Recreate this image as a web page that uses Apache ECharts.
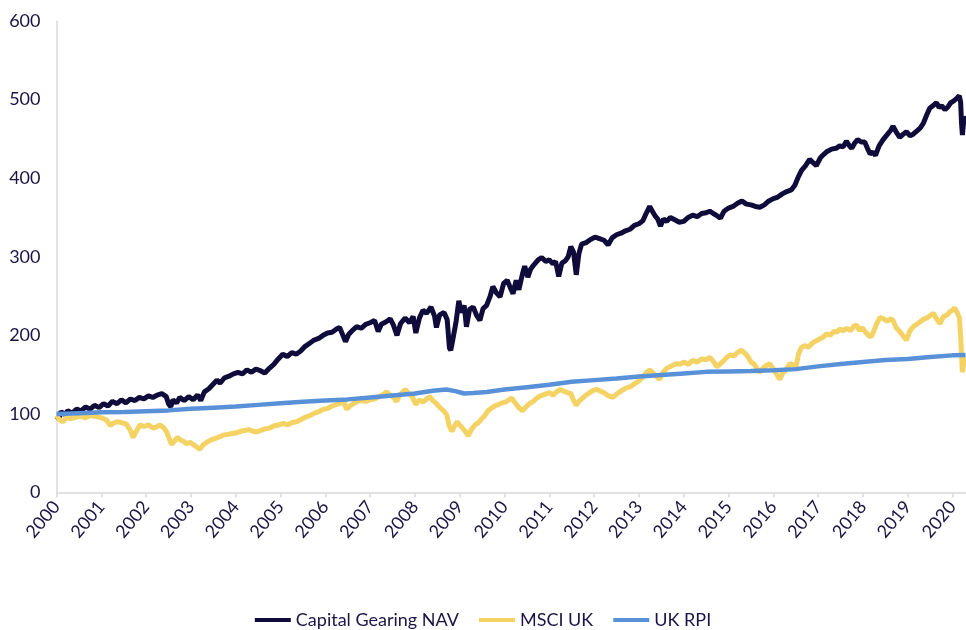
<!DOCTYPE html>
<html>
<head>
<meta charset="utf-8">
<script src="https://cdn.jsdelivr.net/npm/echarts@6.0.0/dist/echarts.min.js"></script>
<style>
html,body{margin:0;padding:0;background:#fff;}
#chart{width:966px;height:630px;}
</style>
</head>
<body>
<div id="chart"></div>
<script>
// ---- data ----
var seriesNames = ['Capital Gearing NAV', 'MSCI UK', 'UK RPI'];
var yearTicks = [2000,2001,2002,2003,2004,2005,2006,2007,2008,2009,2010,2011,2012,2013,2014,2015,2016,2017,2018,2019,2020];
var yTicks = [0,100,200,300,400,500,600];

var navData = [
[2000.00,97],[2000.05,94],[2000.10,103],[2000.18,99],[2000.25,104],[2000.35,101],[2000.45,106],[2000.55,104],[2000.65,109],[2000.75,106],
[2000.85,111],[2000.95,108],[2001.05,113],[2001.15,110],[2001.25,116],[2001.35,113],[2001.45,118],[2001.55,114],[2001.65,119],[2001.75,117],
[2001.85,121],[2001.95,119],[2002.05,123],[2002.15,121],[2002.25,124],[2002.35,126],[2002.45,122],[2002.50,113],[2002.55,109],[2002.60,118],
[2002.68,114],[2002.75,121],[2002.85,117],[2002.95,122],[2003.05,118],[2003.15,124],[2003.22,117],[2003.30,128],[2003.40,132],[2003.50,138],
[2003.58,143],[2003.65,139],[2003.75,146],[2003.85,148],[2003.95,151],[2004.05,153],[2004.15,151],[2004.25,156],[2004.35,153],[2004.45,157],
[2004.55,155],[2004.65,152],[2004.75,158],[2004.85,163],[2004.95,170],[2005.05,176],[2005.15,173],[2005.25,178],[2005.35,176],[2005.45,180],
[2005.55,186],[2005.65,190],[2005.75,194],[2005.85,196],[2005.95,200],[2006.05,203],[2006.15,204],[2006.25,208],[2006.32,210],[2006.40,199],
[2006.45,192],[2006.52,201],[2006.60,206],[2006.70,211],[2006.80,209],[2006.90,214],[2007.00,216],[2007.10,219],[2007.18,205],[2007.25,214],
[2007.35,217],[2007.45,221],[2007.52,213],[2007.60,200],[2007.68,215],[2007.78,222],[2007.88,216],[2007.96,224],[2008.02,203],[2008.10,222],
[2008.18,232],[2008.26,228],[2008.36,236],[2008.44,224],[2008.48,210],[2008.55,226],[2008.65,229],[2008.72,220],[2008.77,184],[2008.80,181],
[2008.85,196],[2008.92,218],[2008.98,244],[2009.03,229],[2009.10,238],[2009.15,211],[2009.22,233],[2009.30,236],[2009.38,225],[2009.45,219],
[2009.52,234],[2009.60,238],[2009.68,250],[2009.74,262],[2009.82,254],[2009.90,249],[2009.98,266],[2010.06,270],[2010.12,262],[2010.19,253],
[2010.26,270],[2010.32,258],[2010.40,278],[2010.45,288],[2010.52,274],[2010.58,284],[2010.66,290],[2010.75,296],[2010.83,299],[2010.92,294],
[2011.00,296],[2011.08,291],[2011.14,294],[2011.21,275],[2011.28,292],[2011.36,295],[2011.42,300],[2011.48,313],[2011.54,306],[2011.60,277],
[2011.66,304],[2011.72,316],[2011.82,318],[2011.92,322],[2012.02,325],[2012.12,323],[2012.22,321],[2012.31,315],[2012.40,324],[2012.50,328],
[2012.60,330],[2012.70,333],[2012.80,335],[2012.90,340],[2013.00,342],[2013.09,346],[2013.16,355],[2013.24,364],[2013.30,358],[2013.36,352],
[2013.42,348],[2013.48,339],[2013.55,348],[2013.62,345],[2013.70,350],[2013.80,347],[2013.90,344],[2014.00,345],[2014.10,350],[2014.20,353],
[2014.30,351],[2014.40,355],[2014.50,356],[2014.58,358],[2014.66,355],[2014.75,352],[2014.82,349],[2014.90,358],[2015.00,362],[2015.10,364],
[2015.20,368],[2015.30,371],[2015.40,367],[2015.50,366],[2015.60,364],[2015.70,363],[2015.80,366],[2015.90,371],[2016.00,374],[2016.10,376],
[2016.20,380],[2016.30,383],[2016.40,385],[2016.48,391],[2016.56,402],[2016.63,410],[2016.72,416],[2016.81,424],[2016.88,420],[2016.96,416],
[2017.05,426],[2017.12,430],[2017.20,434],[2017.30,437],[2017.40,438],[2017.48,441],[2017.56,440],[2017.63,447],[2017.70,441],[2017.75,438],
[2017.82,445],[2017.88,449],[2017.96,446],[2018.04,446],[2018.10,438],[2018.16,431],[2018.22,433],[2018.28,429],[2018.36,441],[2018.45,449],
[2018.55,456],[2018.62,461],[2018.67,466],[2018.74,459],[2018.82,452],[2018.90,456],[2018.97,459],[2019.05,454],[2019.12,456],[2019.20,460],
[2019.28,464],[2019.35,470],[2019.42,480],[2019.49,489],[2019.56,492],[2019.64,496],[2019.70,490],[2019.76,492],[2019.83,487],[2019.90,491],
[2019.96,496],[2020.02,498],[2020.10,502],[2020.15,505],[2020.18,497],[2020.20,470],[2020.22,455],[2020.24,468],[2020.27,478],[2020.29,476]
];

var msciData = [
[2000.00,98],[2000.06,93],[2000.14,90],[2000.22,95],[2000.32,94],[2000.45,96],[2000.55,97],[2000.65,95],[2000.75,98],[2000.85,97],
[2000.95,96],[2001.05,94],[2001.12,92],[2001.20,85],[2001.26,88],[2001.35,90],[2001.45,89],[2001.56,87],[2001.64,80],[2001.71,70],
[2001.78,78],[2001.86,86],[2001.95,84],[2002.05,86],[2002.16,82],[2002.25,84],[2002.31,86],[2002.40,82],[2002.46,77],[2002.52,68],
[2002.57,61],[2002.64,66],[2002.70,70],[2002.76,67],[2002.84,65],[2002.90,62],[2002.98,64],[2003.08,60],[2003.15,57],[2003.20,55],
[2003.28,61],[2003.36,64],[2003.45,67],[2003.55,69],[2003.65,71],[2003.72,73],[2003.82,74],[2003.92,75],[2004.02,76],[2004.12,78],
[2004.20,79],[2004.30,80],[2004.38,78],[2004.46,77],[2004.56,79],[2004.66,81],[2004.76,82],[2004.86,85],[2004.96,86],[2005.06,88],
[2005.16,86],[2005.26,89],[2005.36,90],[2005.46,93],[2005.56,96],[2005.66,98],[2005.76,101],[2005.86,103],[2005.96,106],[2006.05,107],
[2006.15,110],[2006.25,112],[2006.35,114],[2006.42,115],[2006.47,106],[2006.55,110],[2006.65,114],[2006.77,117],[2006.90,116],[2007.00,118],
[2007.10,119],[2007.20,122],[2007.30,125],[2007.37,128],[2007.45,124],[2007.52,121],[2007.59,116],[2007.66,124],[2007.72,127],[2007.78,131],
[2007.86,126],[2007.94,122],[2008.02,112],[2008.10,118],[2008.18,115],[2008.26,119],[2008.33,122],[2008.40,117],[2008.48,113],[2008.56,108],
[2008.64,104],[2008.71,99],[2008.76,86],[2008.82,78],[2008.88,84],[2008.94,90],[2009.00,86],[2009.06,82],[2009.12,78],[2009.19,72],
[2009.26,80],[2009.34,86],[2009.42,89],[2009.48,93],[2009.56,98],[2009.63,104],[2009.70,107],[2009.78,110],[2009.86,112],[2009.94,114],
[2010.02,115],[2010.10,118],[2010.16,120],[2010.24,114],[2010.32,108],[2010.40,104],[2010.48,109],[2010.56,113],[2010.64,116],[2010.72,120],
[2010.80,123],[2010.90,125],[2011.00,127],[2011.08,124],[2011.16,128],[2011.24,131],[2011.32,129],[2011.40,127],[2011.48,126],[2011.55,116],
[2011.60,111],[2011.66,116],[2011.74,120],[2011.82,124],[2011.90,127],[2011.98,130],[2012.06,131],[2012.14,129],[2012.22,127],[2012.32,123],
[2012.42,121],[2012.52,126],[2012.62,130],[2012.72,133],[2012.82,135],[2012.92,139],[2013.02,143],[2013.10,148],[2013.17,153],[2013.24,156],
[2013.32,152],[2013.40,147],[2013.46,144],[2013.54,153],[2013.62,158],[2013.72,161],[2013.84,164],[2013.92,163],[2014.00,166],[2014.10,163],
[2014.20,168],[2014.30,166],[2014.40,170],[2014.50,169],[2014.58,172],[2014.66,167],[2014.74,160],[2014.80,163],[2014.88,167],[2014.96,172],
[2015.04,175],[2015.12,174],[2015.20,178],[2015.28,181],[2015.35,178],[2015.42,174],[2015.50,166],[2015.58,163],[2015.65,156],[2015.70,153],
[2015.78,159],[2015.86,162],[2015.92,164],[2016.00,157],[2016.08,150],[2016.14,144],[2016.20,151],[2016.28,156],[2016.37,164],[2016.45,162],
[2016.50,158],[2016.56,176],[2016.62,184],[2016.70,187],[2016.78,185],[2016.89,191],[2016.96,193],[2017.05,196],[2017.12,198],[2017.19,202],
[2017.27,200],[2017.35,205],[2017.42,204],[2017.48,208],[2017.56,206],[2017.64,209],[2017.72,206],[2017.80,212],[2017.86,213],[2017.92,206],
[2017.98,210],[2018.06,204],[2018.12,200],[2018.18,198],[2018.24,205],[2018.30,214],[2018.38,223],[2018.46,221],[2018.54,218],[2018.62,221],
[2018.67,219],[2018.74,210],[2018.82,205],[2018.90,199],[2018.97,194],[2019.04,205],[2019.12,211],[2019.20,214],[2019.27,217],[2019.34,220],
[2019.42,222],[2019.50,225],[2019.57,228],[2019.63,222],[2019.72,215],[2019.80,224],[2019.88,226],[2019.94,230],[2020.00,232],[2020.05,235],
[2020.10,229],[2020.15,223],[2020.18,200],[2020.20,175],[2020.22,153],[2020.25,165],[2020.27,172],[2020.29,170]
];

var rpiData = [
[2000.0,100],[2000.5,101],[2001.0,102],[2001.5,102.5],[2002.0,103.5],[2002.5,104.5],[2003.0,106.5],[2003.5,108],[2004.0,109.5],[2004.5,111.5],
[2005.0,113.5],[2005.5,115.5],[2006.0,117],[2006.5,118.5],[2007.0,121],[2007.5,123.5],[2008.0,126],[2008.4,129.5],[2008.7,131],[2008.9,129],
[2009.1,126],[2009.3,126.5],[2009.6,128],[2010.0,131],[2010.5,134],[2011.0,137],[2011.5,141],[2012.0,143],[2012.5,145],[2013.0,147.5],
[2013.5,149.5],[2014.0,151.5],[2014.5,153.5],[2015.0,154],[2015.5,154.5],[2016.0,155.5],[2016.5,157],[2017.0,160.5],[2017.5,163.5],[2018.0,166],
[2018.5,168.5],[2019.0,170],[2019.5,172.5],[2020.0,174.5],[2020.29,175]
];

var colors = ['#0f0b3a', '#f4d264', '#5891d8'];
var textColor = '#1a1545';
var axisGrey = '#d9d9d9';
var fontFam = 'Lato, "Noto Sans", sans-serif';

var chart = echarts.init(document.getElementById('chart'), null, {renderer: 'canvas'});
chart.setOption({
  animation: false,
  backgroundColor: '#ffffff',
  color: colors,
  grid: {left: 56.5, right: 0, top: 21, bottom: 137.5, containLabel: false},
  legend: {
    data: seriesNames,
    left: 'center',
    top: 611,
    padding: 0,
    icon: 'rect',
    itemWidth: 36,
    itemHeight: 4,
    itemGap: 20,
    textStyle: {color: textColor, fontSize: 18, fontFamily: fontFam}
  },
  xAxis: {
    type: 'value',
    min: 2000,
    max: 2020.3,
    interval: 1,
    splitLine: {show: false},
    axisLine: {show: true, lineStyle: {color: axisGrey, width: 1.5}},
    axisTick: {show: true, length: 5, lineStyle: {color: axisGrey, width: 1.5}, customValues: yearTicks},
    axisLabel: {
      customValues: yearTicks,
      rotate: 50,
      margin: 11,
      color: textColor,
      fontSize: 18,
      fontFamily: fontFam,
      formatter: function (v) { return String(Math.round(v)); }
    }
  },
  yAxis: {
    type: 'value',
    min: 0,
    max: 600,
    interval: 100,
    splitLine: {show: false},
    axisLine: {show: true, lineStyle: {color: axisGrey, width: 1.5}},
    axisTick: {show: false},
    axisLabel: {color: textColor, fontSize: 18, fontFamily: fontFam, margin: 16}
  },
  series: [
    {name: seriesNames[0], type: 'line', data: navData, showSymbol: false, symbol: 'none', lineStyle: {width: 5, color: colors[0]}},
    {name: seriesNames[1], type: 'line', data: msciData, showSymbol: false, symbol: 'none', lineStyle: {width: 5, color: colors[1]}},
    {name: seriesNames[2], type: 'line', data: rpiData, showSymbol: false, symbol: 'none', lineStyle: {width: 4.5, color: colors[2]}}
  ]
});
</script>
</body>
</html>
